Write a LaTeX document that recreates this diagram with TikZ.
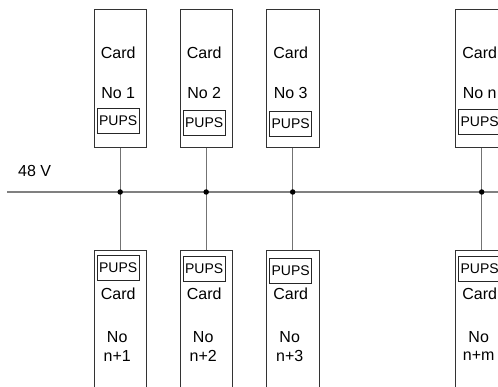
\documentclass[tikz,border=0pt]{standalone}
\usepackage{fontspec}
\setmainfont{Liberation Sans}
\usetikzlibrary{calc}
\begin{document}
\begin{tikzpicture}[x=1pt,y=-1pt,
  card/.style={draw=black!80, line width=0.9pt, minimum width=52.5pt, inner sep=0pt, anchor=north west},
  pups/.style={draw=black!85, line width=0.8pt, minimum width=42pt, minimum height=25pt, inner sep=0pt,
    font=\fontsize{14}{16}\selectfont},
  lbl/.style={inner sep=0pt, font=\fontsize{16}{18}\selectfont},
  bus/.style={draw=black!50, line width=1.3pt},
  wire/.style={draw=black!55, line width=1pt},
  junction/.style={circle, fill=black, inner sep=0pt, minimum size=5.5pt}]
\useasboundingbox (0,0) rectangle (498,387);
\clip (0,0) rectangle (498,387);

% 48 V supply bus
\coordinate (busL) at (7,192);
\coordinate (busR) at (505,192);
\draw[bus] (busL) -- (busR);
\node[lbl, anchor=base west] (vlabel) at (18,177) {48 V};

% upper row of cards: left edge / number / PUPS centre y
\foreach \x/\n/\num/\py in {93.5/1/1/120.5, 179.5/2/2/122.5, 266/3/3/124, 455/4/n/122}{
  \node[card, minimum height=138pt] (t\n) at (\x,9) {};
  \node[lbl] (tc\n) at ($(t\n.north)+(-2,44)$) {Card};
  \node[lbl] (tn\n) at ($(t\n.north)+(-2,84)$) {No \num};
  \node[pups] (tp\n) at ($(t\n.north)+(-2,\py-9)$) {PUPS};
}

% lower row of cards
\foreach \x/\n/\num/\py in {93.5/1/1/268, 179.5/2/2/268.5, 266/3/3/271, 455/4/m/269}{
  \node[card, minimum height=160pt] (b\n) at (\x,250.5) {};
  \node[pups] (bp\n) at ($(b\n.north)+(-2,\py-250.5)$) {PUPS};
  \node[lbl] (bc\n) at ($(b\n.north)+(-2,43.5)$) {Card};
  \node[lbl] (bo\n) at ($(b\n.north)+(-3,87)$) {No};
  \node[lbl] (bn\n) at ($(b\n.north)+(-3,105)$) {n+\num};
}

% feeds from each upper card through the bus to the lower card
\foreach \n in {1,2,3,4}{
  \draw[wire] (t\n.south) -- (b\n.north);
  \node[junction] (j\n) at (t\n.south |- busL) {};
}
\end{tikzpicture}
\end{document}
